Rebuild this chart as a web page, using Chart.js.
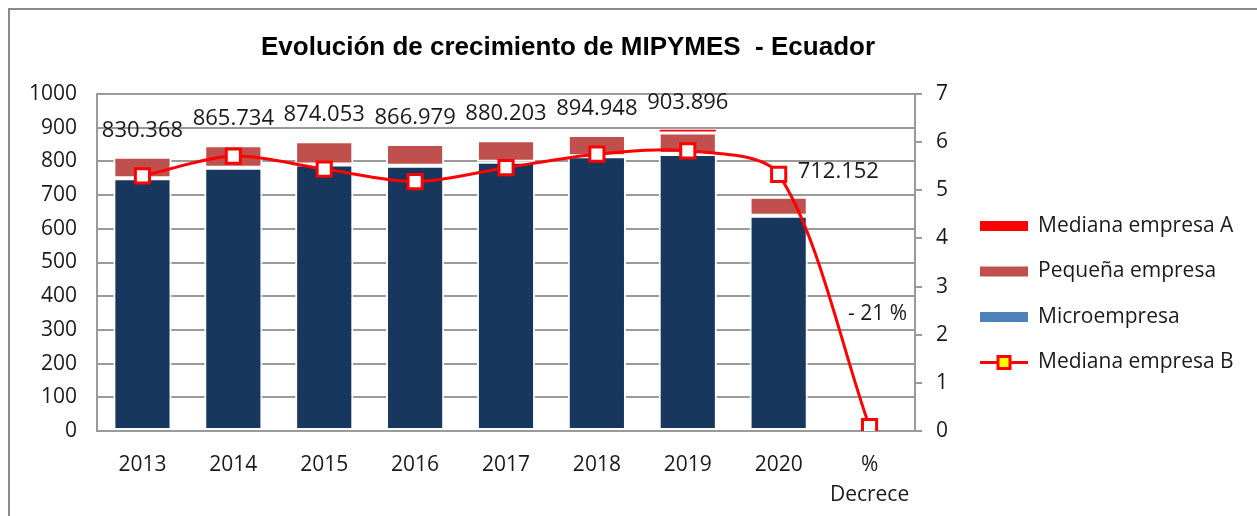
<!DOCTYPE html>
<html>
<head>
<meta charset="utf-8">
<script src="https://cdn.jsdelivr.net/npm/chart.js@4.4.1/dist/chart.umd.min.js"></script>
<style>
  html, body { margin: 0; padding: 0; background: #fff; }
  #wrap { width: 1257px; height: 516px; }
</style>
</head>
<body>
<div id="wrap"><canvas id="myChart" width="1257" height="516"></canvas></div>
<script>
// categories and values
const anios = ['2013', '2014', '2015', '2016', '2017', '2018', '2019', '2020', ['%', 'Decrece']];
const microempresa = [750, 781, 791, 787, 799, 815, 822, 639, null];
const pequenaEmpresa = [64, 67, 69, 65, 64, 63, 64, 56, null];
const medianaA = [null, null, null, null, null, null, 11, null, null];
const medianaB = [5.30, 5.71, 5.44, 5.18, 5.47, 5.75, 5.82, 5.33, 0.09];
const etiquetasTotal = ['830.368', '865.734', '874.053', '866.979', '880.203', '894.948', '903.896', '712.152'];
const etiquetaDecrece = '- 21 %';
const decreceEn = 2.43; // right axis value where the % label sits

const tituloTexto = 'Evolución de crecimiento de MIPYMES  - Ecuador';
const leyenda = [
    { text: 'Mediana empresa A', type: 'box', color: '#ff0000' },
    { text: 'Pequeña empresa', type: 'box', color: '#c0504d' },
    { text: 'Microempresa', type: 'box', color: '#4f81bd' },
    { text: 'Mediana empresa B', type: 'line', color: '#ff0000', fill: '#ffff00' }
];

const FONT = '"Open Sans", "Liberation Sans", sans-serif';
const GRIS = '#9a9a9a';

const extrasPlugin = {
    id: 'extras',
    afterDatasetsDraw(chart) {
        const { ctx, scales: { y, y1 } } = chart;
        const lineMeta = chart.getDatasetMeta(3);
        const barMeta = chart.getDatasetMeta(0);
        ctx.save();
        ctx.fillStyle = '#1a1a1a';
        ctx.font = '22px ' + FONT;
        ctx.textBaseline = 'middle';
        etiquetasTotal.forEach((txt, i) => {
            if (i === 7) {
                // 2020 label sits beside the line point
                const p = lineMeta.data[i];
                ctx.textAlign = 'left';
                ctx.fillText(txt, p.x + 19, p.y - 3);
                return;
            }
            const total = (microempresa[i] || 0) + (pequenaEmpresa[i] || 0) + (medianaA[i] || 0);
            ctx.textAlign = 'center';
            ctx.fillText(txt, barMeta.data[i].x, y.getPixelForValue(total) - 26);
        });
        ctx.font = '21px ' + FONT;
        ctx.textAlign = 'center';
        ctx.fillText(etiquetaDecrece, lineMeta.data[8].x + 8, y1.getPixelForValue(decreceEn));
        ctx.restore();
    },
    afterDraw(chart) {
        const { ctx } = chart;
        ctx.save();
        // outer frame
        ctx.strokeStyle = '#8a8a8a';
        ctx.lineWidth = 2;
        ctx.beginPath();
        ctx.moveTo(9, 516);
        ctx.lineTo(9, 9);
        ctx.lineTo(1257, 9);
        ctx.stroke();

        // title
        ctx.fillStyle = '#000';
        ctx.font = 'bold 26px "Liberation Sans", Arial, sans-serif';
        ctx.textAlign = 'center';
        ctx.textBaseline = 'middle';
        ctx.fillText(tituloTexto, 568, 48);

        // legend
        ctx.font = '21px ' + FONT;
        ctx.textAlign = 'left';
        leyenda.forEach((item, i) => {
            const cy = 226 + i * 45.5;
            if (item.type === 'box') {
                ctx.fillStyle = item.color;
                ctx.fillRect(980, cy - 5, 48, 10);
            } else {
                ctx.strokeStyle = item.color;
                ctx.lineWidth = 3;
                ctx.beginPath();
                ctx.moveTo(980, cy);
                ctx.lineTo(1028, cy);
                ctx.stroke();
                ctx.fillStyle = item.fill;
                ctx.fillRect(998, cy - 6, 12, 12);
                ctx.strokeRect(998, cy - 6, 12, 12);
            }
            ctx.fillStyle = '#1a1a1a';
            ctx.fillText(item.text, 1038, cy);
        });
        ctx.restore();
    }
};

const ctx = document.getElementById('myChart');

new Chart(ctx, {
    type: 'bar',
    plugins: [extrasPlugin],
    data: {
        labels: anios,
        datasets: [
            {
                label: 'Microempresa',
                data: microempresa,
                backgroundColor: '#17375e',
                borderColor: '#ffffff',
                borderWidth: 2,
                borderSkipped: false,
                yAxisID: 'y',
                order: 2
            },
            {
                label: 'Pequeña empresa',
                data: pequenaEmpresa,
                backgroundColor: '#c0504d',
                borderColor: '#ffffff',
                borderWidth: 2,
                borderSkipped: false,
                yAxisID: 'y',
                order: 2
            },
            {
                label: 'Mediana empresa A',
                data: medianaA,
                backgroundColor: '#ff0000',
                borderColor: '#ffffff',
                borderWidth: 1,
                borderSkipped: false,
                yAxisID: 'y',
                order: 2
            },
            {
                type: 'line',
                label: 'Mediana empresa B',
                data: medianaB,
                borderColor: '#ff0000',
                borderWidth: 3,
                tension: 0.3,
                pointStyle: 'rect',
                pointRadius: 10,
                pointBorderWidth: 3,
                pointBorderColor: '#ff0000',
                pointBackgroundColor: '#ffffff',
                yAxisID: 'y1',
                order: 1
            }
        ]
    },
    options: {
        responsive: false,
        animation: false,
        layout: { padding: { top: 94, left: 0, right: 0, bottom: 0 } },
        plugins: {
            legend: { display: false },
            title: { display: false },
            tooltip: { enabled: false }
        },
        datasets: {
            bar: { barPercentage: 0.64, categoryPercentage: 1 }
        },
        scales: {
            x: {
                stacked: true,
                grid: { display: false },
                border: { color: GRIS, width: 2 },
                ticks: {
                    color: '#1a1a1a',
                    font: { family: FONT, size: 21, lineHeight: 1.43 },
                    padding: 11,
                    maxRotation: 0
                },
                afterFit(scale) { scale.height = 85; }
            },
            y: {
                stacked: true,
                min: 0,
                max: 1000,
                grid: { color: GRIS, lineWidth: 2, drawTicks: false },
                border: { color: GRIS, width: 2 },
                ticks: {
                    stepSize: 100,
                    color: '#1a1a1a',
                    font: { family: FONT, size: 21 },
                    padding: 20,
                    callback: v => String(v)
                },
                afterFit(scale) { scale.width = 97; }
            },
            y1: {
                position: 'right',
                min: 0,
                max: 7,
                grid: { drawOnChartArea: false, color: GRIS, lineWidth: 2, tickLength: 7 },
                border: { color: GRIS, width: 2 },
                ticks: {
                    stepSize: 1,
                    color: '#1a1a1a',
                    font: { family: FONT, size: 21 },
                    padding: 14
                },
                afterFit(scale) { scale.width = 342; }
            }
        }
    }
});
</script>
</body>
</html>
